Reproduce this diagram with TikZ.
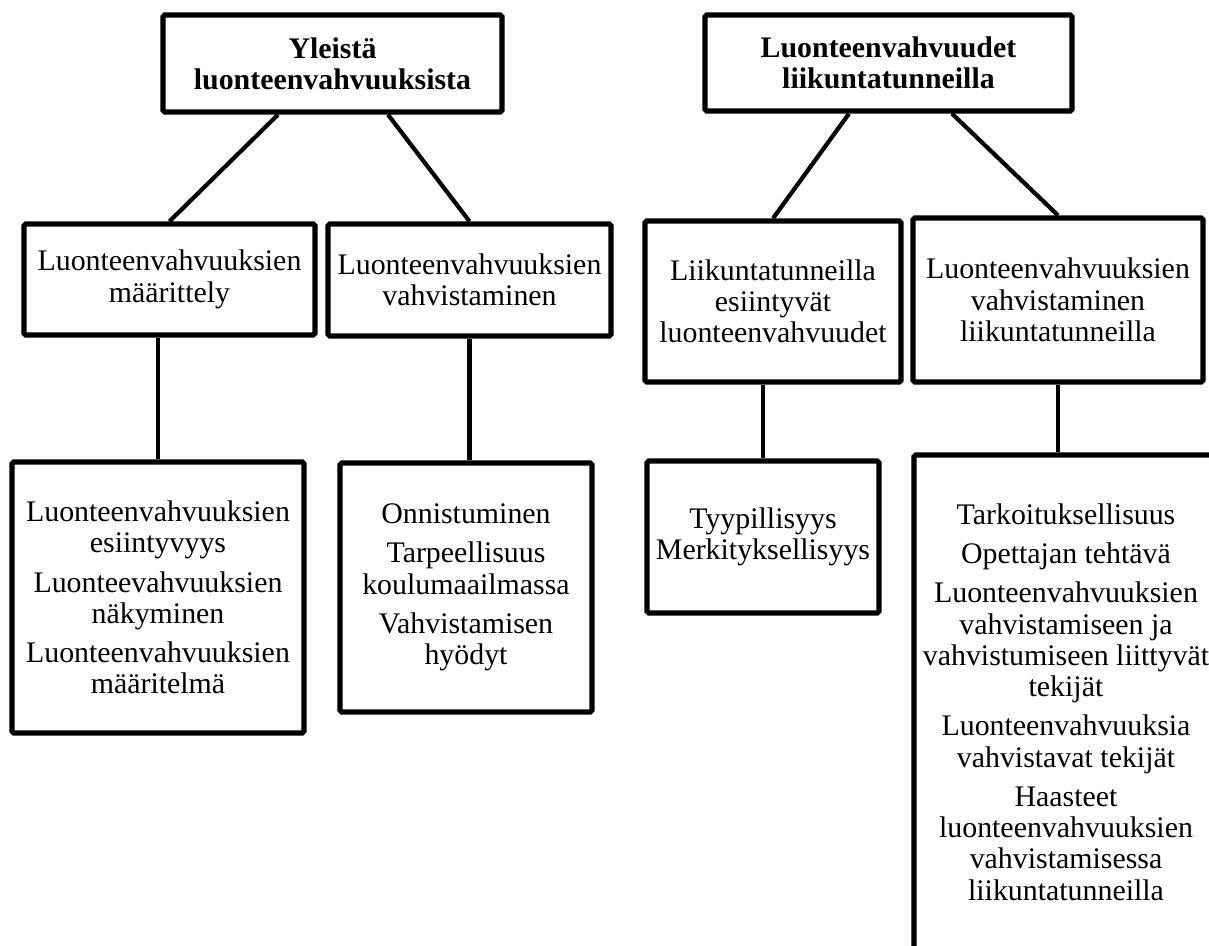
\documentclass[tikz,border=0pt]{standalone}
\usepackage{fontspec}
\setmainfont{Liberation Serif}
\usetikzlibrary{calc, positioning}

\begin{document}
\begin{tikzpicture}[
  every node/.style={font=\fontsize{17}{17.8}\selectfont, align=center, inner sep=0pt},
  topic/.style={rectangle, draw, line width=3pt, rounded corners=1pt, font=\fontsize{17}{17.8}\selectfont\bfseries},
  subtopic/.style={rectangle, draw, line width=3pt, rounded corners=1pt},
  itembox/.style={rectangle, draw, line width=3pt, rounded corners=1pt},
  link/.style={draw, line width=2.4pt}
]
\useasboundingbox (0,0) rectangle (24.18,-18.92);
\clip (0,0) rectangle (24.18,-18.92);

\node[topic, minimum width=6.78cm, minimum height=1.94cm] (yleista) at (6.65,-1.27) {Yleistä\\luonteenvahvuuksista};
\node[topic, minimum width=7.34cm, minimum height=1.92cm] (liikunta) at (17.77,-1.26) {Luonteenvahvuudet\\liikuntatunneilla};

\node[subtopic, minimum width=5.82cm, minimum height=2.22cm] (maarittely) at (3.39,-5.59) {Luonteenvahvuuksien\\määrittely};
\node[subtopic, minimum width=5.66cm, minimum height=2.24cm] (vahvistaminen) at (9.39,-5.60) {Luonteenvahvuuksien\\vahvistaminen};
\node[subtopic, minimum width=5.12cm, minimum height=3.22cm] (esiintyvat) at (15.46,-6.03) {Liikuntatunneilla\\esiintyvät\\luonteenvahvuudet};
\node[subtopic, minimum width=5.80cm, minimum height=3.28cm] (vahvliikunta) at (21.16,-6.00) {Luonteenvahvuuksien\\vahvistaminen\\liikuntatunneilla};

\node[itembox, minimum width=5.84cm, minimum height=5.42cm] (esiintyvyys) at (3.16,-11.95) {Luonteenvahvuuksien\\esiintyvyys\\[4.5pt]Luonteevahvuuksien\\näkyminen\\[4.5pt]Luonteenvahvuuksien\\määritelmä};
\node[itembox, minimum width=5.04cm, minimum height=4.98cm] (onnistuminen) at (9.32,-11.75) {Onnistuminen\\[4.5pt]Tarpeellisuus\\koulumaailmassa\\[4.5pt]Vahvistamisen\\hyödyt};
\node[itembox, minimum width=4.64cm, minimum height=3.04cm] (tyypillisyys) at (15.26,-10.74) {Tyypillisyys\\Merkityksellisyys};
\node[itembox, minimum width=6.08cm, minimum height=9.88cm] (tarkoitus) at (21.32,-14.04) {Tarkoituksellisuus\\[4.5pt]Opettajan tehtävä\\[4.5pt]Luonteenvahvuuksien\\vahvistamiseen ja\\vahvistumiseen liittyvät\\tekijät\\[4.5pt]Luonteenvahvuuksia\\vahvistavat tekijät\\[4.5pt]Haasteet\\luonteenvahvuuksien\\vahvistamisessa\\liikuntatunneilla};

\draw[link] ($(yleista.south)+(-1.09,0)$) -- (maarittely.north);
\draw[link] ($(yleista.south)+(1.11,0)$) -- (vahvistaminen.north);
\draw[link] ($(liikunta.south)+(-0.79,0)$) -- (esiintyvat.north);
\draw[link] ($(liikunta.south)+(1.27,0)$) -- (vahvliikunta.north);
\draw[link] (esiintyvyys.north |- maarittely.south) -- (esiintyvyys.north);
\draw[link] (vahvistaminen.south) -- (vahvistaminen.south |- onnistuminen.north);
\draw[link] (tyypillisyys.north |- esiintyvat.south) -- (tyypillisyys.north);
\draw[link] (vahvliikunta.south) -- (vahvliikunta.south |- tarkoitus.north);

\end{tikzpicture}
\end{document}
